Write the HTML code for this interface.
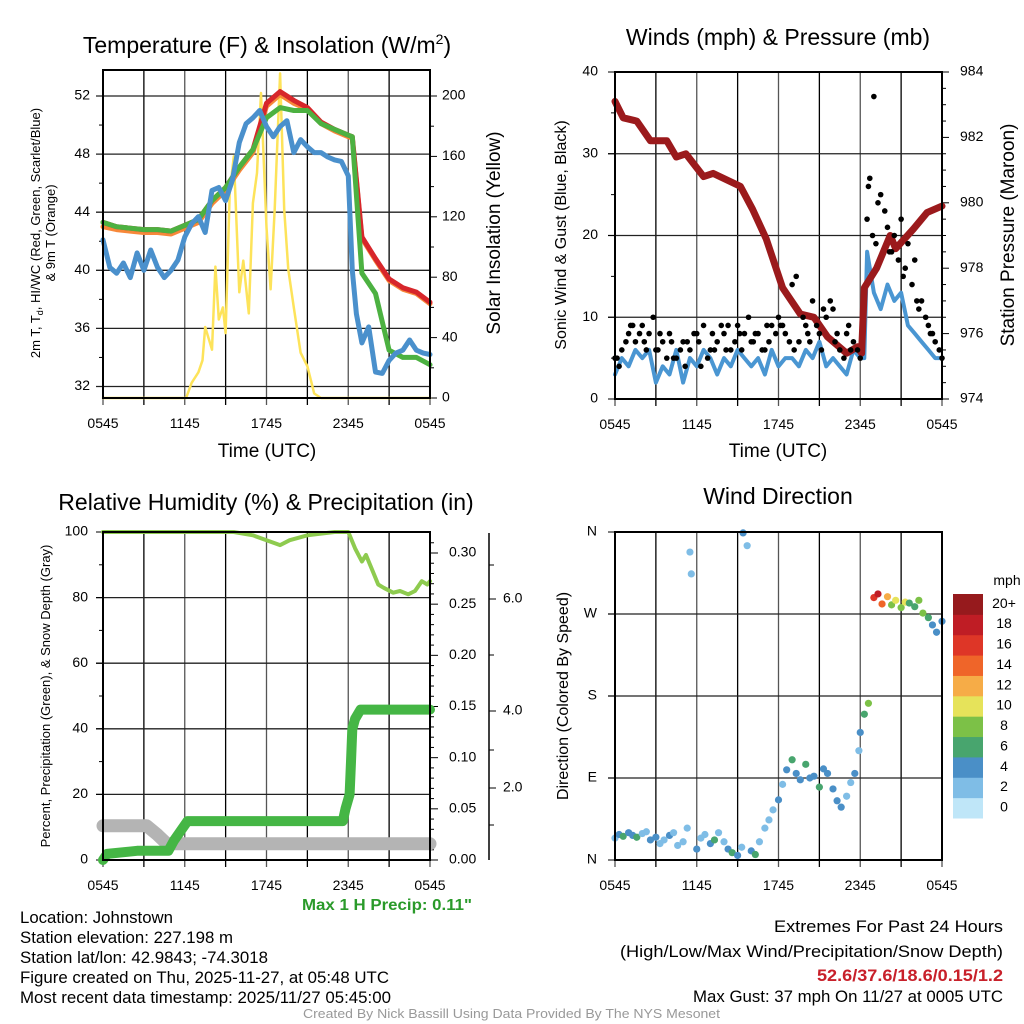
<!DOCTYPE html>
<html><head><meta charset="utf-8"><style>
html,body{margin:0;padding:0;background:#fff;}
svg{display:block;font-family:"Liberation Sans",sans-serif;}
.tk{font-size:14px;fill:#000;}
.ttl{font-size:23px;fill:#000;}
.ax{font-size:19px;fill:#000;}
</style></head><body>
<svg id="fig" width="1024" height="1024" viewBox="0 0 1024 1024" xmlns="http://www.w3.org/2000/svg">
<g id="p1"></g>
<g id="p2"></g>
<g id="p3"></g>
<g id="p4"></g>
<g id="txt">
<text x="20" y="923" font-size="16.5" textLength="153" lengthAdjust="spacingAndGlyphs">Location: Johnstown</text>
<text x="20" y="943" font-size="16.5" textLength="213" lengthAdjust="spacingAndGlyphs">Station elevation: 227.198 m</text>
<text x="20" y="963" font-size="16.5" textLength="248" lengthAdjust="spacingAndGlyphs">Station lat/lon: 42.9843; -74.3018</text>
<text x="20" y="983" font-size="16.5" textLength="369" lengthAdjust="spacingAndGlyphs">Figure created on Thu, 2025-11-27, at 05:48 UTC</text>
<text x="20" y="1003" font-size="16.5" textLength="371" lengthAdjust="spacingAndGlyphs">Most recent data timestamp: 2025/11/27 05:45:00</text>
<text x="774" y="932" font-size="16.5" textLength="229" lengthAdjust="spacingAndGlyphs">Extremes For Past 24 Hours</text>
<text x="620" y="957" font-size="16.5" textLength="383" lengthAdjust="spacingAndGlyphs">(High/Low/Max Wind/Precipitation/Snow Depth)</text>
<text x="817" y="981" font-size="16.5" textLength="186" lengthAdjust="spacingAndGlyphs" font-weight="bold" fill="#c8202a">52.6/37.6/18.6/0.15/1.2</text>
<text x="693" y="1002" font-size="16.5" textLength="310" lengthAdjust="spacingAndGlyphs">Max Gust: 37 mph On 11/27 at 0005 UTC</text>
<text x="303" y="1018" font-size="13" textLength="417" lengthAdjust="spacingAndGlyphs" fill="#999">Created By Nick Bassill Using Data Provided By The NYS Mesonet</text>
<text x="302" y="910" font-size="15.5" textLength="170" lengthAdjust="spacingAndGlyphs" font-weight="bold" fill="#2a9a2a">Max 1 H Precip: 0.11"</text>
</g>
</svg>
<script>
// ---------- data ----------
const xTickLabels = ["0545","1145","1745","2345","0545"];
const tempT = [0,1,2,3,4,5,6,7,8,9,10,11,12,13,14,15,16,17,18,18.3,19,20,21,22,23,24];
const tempRed = [43.3,43.0,42.9,42.8,42.8,42.7,43.1,43.5,44.8,45.7,47.1,48.3,51.5,52.3,51.7,51.2,50.2,49.7,49.3,49.2,42.3,40.8,39.4,38.8,38.5,37.8];
const tempGreen = [43.3,43.0,42.9,42.8,42.8,42.7,43.1,43.5,44.8,45.7,47.1,48.3,50.5,51.2,51.0,51.0,50.1,49.7,49.3,49.2,39.8,38.4,34.5,34.0,34.0,33.5];
const tempOrange = [43.0,42.8,42.7,42.6,42.6,42.5,42.9,43.3,44.6,45.5,46.9,48.1,51.3,52.1,51.5,51.1,50.1,49.6,49.2,49.1,42.2,40.7,39.3,38.7,38.4,37.7];
const dewT = [0,0.5,1,1.5,2,2.5,3,3.5,4,4.5,5,5.5,6,6.5,7,7.5,8,8.5,9,9.5,10,10.5,11,11.5,12,12.5,13,13.5,14,14.5,15,15.5,16,16.5,17,17.5,18,18.3,18.6,19,19.5,20,20.5,21,21.5,22,22.5,23,23.5,24];
const dewV = [42.1,40.2,39.8,40.5,39.5,41.2,40.0,41.4,40.2,39.5,40.0,40.7,42.3,43.2,43.7,42.6,45.5,45.7,44.8,46.2,48.8,50.1,50.5,51.0,49.9,49.2,49.9,50.3,48.1,49.0,48.5,48.1,48.1,47.8,47.6,47.5,46.5,40.0,37.0,35.0,36.1,33.0,32.9,33.8,34.3,34.5,35.2,34.5,34.3,34.2];
const solT = [0,6.1,6.5,7,7.3,7.5,8,8.25,8.5,8.8,9,9.3,9.6,10,10.3,10.7,11,11.3,11.6,12,12.3,12.6,13,13.3,13.6,14,14.5,15,15.5,16,24];
const solV = [0,0,10,17,25,47,32,87,52,60,43,136,160,70,91,56,129,149,202,113,72,125,215,125,85,60,30,21,3,0,0];
const presT = [0,0.6,1.6,2.6,3.8,4.5,5.2,6.5,7.2,9.2,10.1,11.1,12.3,13.6,14.6,15.6,17,17.8,18.1,18.3,19.2,20.2,20.6,21.9,22.9,24];
const presV = [983.1,982.6,982.5,981.9,981.9,981.4,981.5,980.8,980.9,980.5,979.8,978.9,977.4,976.6,976.5,975.9,975.4,975.6,975.4,977.4,978.0,979.0,978.6,979.2,979.7,979.9];
const windT = [0,0.5,1,1.5,2,2.5,3,3.5,4,4.5,5,5.5,6,6.5,7,7.5,8,8.5,9,9.5,10,10.5,11,11.5,12,12.5,13,13.5,14,14.5,15,15.5,16,16.5,17,17.5,18,18.3,18.5,19,19.5,20,20.5,21,21.5,22,22.5,23,23.5,24];
const windV = [3,5,4,6,5,6,2,4,3,6,2,5,4,6,5,3,5,4,6,5,4,5,3,6,4,5,5,4,6,5,7,4,5,4,3,6,5,5,18,13,11,14,12,13,9,8,7,6,5,5];
const gustT = [0,0.5,1,1.5,2,2.5,3,3.5,4,4.5,5,5.5,6,6.5,7,7.5,8,8.5,9,9.5,10,10.5,11,11.5,12,12.5,13,13.5,14,14.5,15,15.5,16,16.5,17,17.5,18,18.5,19,19.5,20,20.5,21,21.5,22,22.5,23,23.5,24];
const gustV = [5,6,8,7,9,8,6,7,8,5,7,6,8,9,6,7,8,6,9,8,7,8,6,9,10,8,14,7,9,12,8,10,11,6,8,7,5,22,37,25,21,20,22,19,17,12,9,7,5];
const gustT2 = [0.3,1.3,2.3,3.3,4.3,5.3,6.3,7.3,8.3,9.3,10.3,11.3,12.3,13.3,14.3,15.3,16.3,17.3,18.7,19.3,20.3,21.3,22.3,23.3];
const gustV2 = [4,9,6,8,5,7,4,6,9,6,8,7,9,15,7,11,8,6,27,24,18,16,11,8];
const gustT3 = [0.15,0.8,1.15,1.8,2.15,2.8,3.15,3.8,4.15,4.8,5.15,5.8,6.15,6.8,7.15,7.8,8.15,8.8,9.15,9.8,10.15,10.8,11.15,11.8,12.15,12.8,13.15,13.8,14.15,14.8,15.15,15.8,16.15,16.8,17.15,17.8,18.6,18.9,19.15,19.8,20.15,20.8,21.15,21.8,22.15,22.8,23.15,23.8];
const gustV3 = [5,7,9,8,7,10,6,5,7,6,4,8,7,5,8,9,6,7,8,10,7,6,9,8,9,7,6,10,8,9,6,12,7,5,9,6,26,20,19,23,18,17,15,14,12,10,8,6];
const rhT = [0,9.6,11,13,13.7,15,17,18,18.5,19,19.3,19.8,20.2,20.6,21.3,21.8,22.4,22.9,23.4,23.8,24];
const rhV = [100,100,99,96,97.5,99,100,100,95,91,93,88,84,83,81.5,82,81,82,85,84,85];
const precT = [0,0.3,2.5,4.8,5.2,6.2,17.6,17.8,18.1,18.2,18.3,18.5,18.9,24];
const precV = [0,0.006,0.009,0.009,0.019,0.038,0.038,0.05,0.064,0.096,0.128,0.138,0.147,0.147];
const snowT = [0,3.2,4.0,4.7,24];
const snowV = [0.95,0.95,0.7,0.45,0.45];
const dirT = [0,0.3,0.6,1,1.3,1.6,2,2.3,2.6,3,3.3,3.6,4,4.3,4.6,5,5.3,5.5,5.6,6,6.3,6.6,7,7.3,7.6,8,8.3,8.6,9,9.3,9.4,9.7,10,10.3,10.6,11,11.3,11.6,12,12.3,12.6,13,13.3,13.6,14,14.3,14.6,15,15.3,15.6,16,16.3,16.6,17,17.3,17.6,17.9,18,18.3,18.6,19,19.3,19.6,20,20.3,20.6,21,21.3,21.6,22,22.3,22.6,23,23.3,23.6,24];
const dirV = [24,28,26,30,27,25,29,31,22,25,18,22,27,30,16,20,35,338,314,12,24,28,18,22,30,20,12,8,5,14,359,345,10,6,20,35,44,55,66,83,99,110,95,88,105,90,92,80,100,95,78,65,58,70,85,95,120,140,160,172,288,292,281,289,280,285,277,283,282,278,285,271,266,258,250,262,255];
const dirS = [3,4,6,4,5,6,3,2,4,5,3,2,4,2,3,3,2,2,2,4,3,2,4,6,2,3,4,6,4,3,5,2,4,6,2,2,3,2,4,3,4,6,4,5,7,4,4,6,4,5,4,4,4,3,3,4,2,4,6,8,16,18,14,12,9,11,8,10,6,7,8,9,6,5,4,4,4];
const cbLabels = ["0","2","4","6","8","10","12","14","16","18","20+"];
const cbColors = ["#bfe6f8","#7fbde6","#4a8fc7","#48a56e","#7cc147","#e6e35a","#f6ac47","#ef6529","#de3627","#bf1d25","#961a1d"];

// ---------- helpers ----------
const NS="http://www.w3.org/2000/svg";
function mk(parent,tag,attrs,text){const e=document.createElementNS(NS,tag);for(const k in attrs)e.setAttribute(k,attrs[k]);if(text!==undefined)e.textContent=text;parent.appendChild(e);return e;}
function lineScale(d0,d1,r0,r1){return v=>r0+(v-d0)*(r1-r0)/(d1-d0);}
function poly(parent,T,V,xs,ys,attrs,name){
  const pts=T.map((t,i)=>xs(t).toFixed(1)+","+ys(V[i]).toFixed(1)).join(" ");
  const e=mk(parent,"polyline",Object.assign({points:pts,fill:"none","stroke-linejoin":"round","stroke-linecap":"round"},attrs));
  
  
  return e;
}
function frame(g,L,R,T,B,xs){
  for(let h=0;h<=24;h+=3){const gl=mk(g,"line",{x1:xs(h),x2:xs(h),y1:T,y2:B+7,stroke:h%6==0?"#555":"#000","stroke-width":1.3});
    }
  for(let i=0;i<5;i++){const tx=mk(g,"text",{x:xs(i*6),y:B+30,"text-anchor":"middle",class:"tk"},xTickLabels[i]);
    }
}
function border(g,L,R,T,B){const r=mk(g,"rect",{x:L,y:T,width:R-L,height:B-T,fill:"none",stroke:"#000","stroke-width":2});
  }
function hgrid(g,L,R,y){const l=mk(g,"line",{x1:L-7,x2:R,y1:y,y2:y,stroke:"#222","stroke-width":1.3});}
function ylab(g,x,y,s,txt,name){const t=mk(g,"text",{x:x,y:y,"text-anchor":"end",class:"tk","dominant-baseline":"middle"},txt);return t;}
function rtext(g,x,y,size,txt,name){const t=mk(g,"text",{x:0,y:0,"font-size":size,"text-anchor":"middle",transform:`translate(${x},${y}) rotate(-90)`},txt);return t;}
function title(g,x,y,txt,name){const t=mk(g,"text",{x:x,y:y,"text-anchor":"middle",class:"ttl"},txt);return t;}

// ---------- panel 1 ----------
(function(){
  const g=document.getElementById("p1");const L=103,R=430,T=70,B=398;
  const xs=lineScale(0,24,L,R), ys=lineScale(52,32,96,386.5), ysol=lineScale(0,200,398,96);
  frame(g,L,R,T,B,xs);
  [52,48,44,40,36,32].forEach(v=>{hgrid(g,L,R,ys(v));ylab(g,90,ys(v),14,String(v),'left-y-tick-label');});
  [50,46,42,38,34].forEach(v=>mk(g,"line",{x1:L-4,x2:L,y1:ys(v),y2:ys(v),stroke:"#000"}));
  [0,40,80,120,160,200].forEach(v=>{mk(g,"line",{x1:R,x2:R+7,y1:ysol(v),y2:ysol(v),stroke:"#000"});
    const t=mk(g,"text",{x:R+12,y:ysol(v),class:"tk","dominant-baseline":"middle"},String(v));});
  [20,60,100,140,180].forEach(v=>mk(g,"line",{x1:R,x2:R+4,y1:ysol(v),y2:ysol(v),stroke:"#000"}));
  poly(g,solT,solV,xs,ysol,{stroke:"#fde35a","stroke-width":2.5},'insolation-line');
  poly(g,tempT,tempOrange,xs,ys,{stroke:"#f7883a","stroke-width":5},'9m-temp-line');
  poly(g,tempT,tempRed,xs,ys,{stroke:"#d7262b","stroke-width":5},'2m-temp-line');
  poly(g,tempT,tempGreen,xs,ys,{stroke:"#4cb141","stroke-width":5},'dewpoint-line');
  poly(g,dewT,dewV,xs,ys,{stroke:"#4a90cc","stroke-width":5},'hi-wc-line');
  border(g,L,R,T,B);
  const tt=mk(g,"text",{x:267,y:53,"text-anchor":"middle",class:"ttl"});
  tt.innerHTML='Temperature (F) &amp; Insolation (W/m<tspan dy="-9" font-size="14">2</tspan><tspan dy="9">)</tspan>';
  const yl=mk(g,"text",{x:0,y:0,"font-size":13,"text-anchor":"middle",transform:"translate(40,233) rotate(-90)"});
  
  yl.innerHTML='2m T, T<tspan dy="3" font-size="9">d</tspan><tspan dy="-3">, HI/WC (Red, Green, Scarlet/Blue)</tspan>';
  rtext(g,55,233,13,'& 9m T (Orange)','left-y-axis-title-2');
  rtext(g,500,233,19,'Solar Insolation (Yellow)','right-y-axis-title');
  const xl=mk(g,"text",{x:267,y:457,"text-anchor":"middle",class:"ax"},'Time (UTC)');
})();

// ---------- panel 2 ----------
(function(){
  const g=document.getElementById("p2");const L=615,R=942,T=72,B=399;
  const xs=lineScale(0,24,L,R), ys=lineScale(0,40,B,T), yp=lineScale(974,984,B,T);
  frame(g,L,R,T,B,xs);
  [0,10,20,30,40].forEach(v=>{if(v>0&&v<40)hgrid(g,L,R,ys(v));mk(g,"line",{x1:L-7,x2:L,y1:ys(v),y2:ys(v),stroke:"#000"});ylab(g,598,ys(v),14,String(v),'left-y-tick-label');});
  [5,15,25,35].forEach(v=>mk(g,"line",{x1:L-4,x2:L,y1:ys(v),y2:ys(v),stroke:"#000"}));
  for(let p=974;p<=984;p+=0.5){const maj=p%2==0;mk(g,"line",{x1:R,x2:R+(maj?7:4),y1:yp(p),y2:yp(p),stroke:"#000"});
    if(maj){const t=mk(g,"text",{x:R+18,y:yp(p),class:"tk","dominant-baseline":"middle"},String(p));}}
  poly(g,windT,windV,xs,ys,{stroke:"#4a96d2","stroke-width":4},'wind-speed-line');
  poly(g,presT,presV,xs,yp,{stroke:"#9b1a1c","stroke-width":7},'pressure-line');
  [[gustT,gustV],[gustT2,gustV2],[gustT3,gustV3]].forEach(p=>p[0].forEach((t,i)=>{const c=mk(g,"circle",{cx:xs(t),cy:ys(p[1][i]),r:2.8,fill:"#000"});}));
  border(g,L,R,T,B);
  title(g,778,45,'Winds (mph) & Pressure (mb)','winds-title');
  rtext(g,566,235,16,'Sonic Wind & Gust (Blue, Black)','left-y-axis-title');
  rtext(g,1014,235,19,'Station Pressure (Maroon)','right-y-axis-title');
  const xl=mk(g,"text",{x:778,y:457,"text-anchor":"middle",class:"ax"},'Time (UTC)');
})();

// ---------- panel 3 ----------
(function(){
  const g=document.getElementById("p3");const L=103,R=430,T=532,B=860;
  const xs=lineScale(0,24,L,R), ys=lineScale(0,100,B,T), ypr=lineScale(0,0.30,B,553), ysn=lineScale(0,2,B,788);
  frame(g,L,R,T,B,xs);
  [0,20,40,60,80,100].forEach(v=>{if(v>0&&v<100)hgrid(g,L,R,ys(v));mk(g,"line",{x1:L-7,x2:L,y1:ys(v),y2:ys(v),stroke:"#000"});ylab(g,88,ys(v),14,String(v),'left-y-tick-label');});
  [10,30,50,70,90].forEach(v=>mk(g,"line",{x1:L-4,x2:L,y1:ys(v),y2:ys(v),stroke:"#000"}));
  for(let i=0;i<=31;i++){const v=i*0.01;const maj=i%5==0;mk(g,"line",{x1:R,x2:R+(maj?8:4),y1:ypr(v),y2:ypr(v),stroke:"#000"});
    if(maj){const t=mk(g,"text",{x:R+19,y:ypr(v),class:"tk","dominant-baseline":"middle"},v.toFixed(2));}}
  const sa=mk(g,"line",{x1:489,x2:489,y1:533,y2:860,stroke:"#000","stroke-width":1.5});
  [[2,788],[4,711],[6,599]].forEach(a=>{mk(g,"line",{x1:489,x2:496,y1:a[1],y2:a[1],stroke:"#000"});
    const t=mk(g,"text",{x:503,y:a[1],class:"tk","dominant-baseline":"middle"},a[0].toFixed(1));});
  [825,750,655,565].forEach(y=>mk(g,"line",{x1:489,x2:494,y1:y,y2:y,stroke:"#000"}));
  poly(g,snowT,snowV,xs,ysn,{stroke:"#b4b4b4","stroke-width":13},'snow-depth-line');
  poly(g,precT,precV,xs,ypr,{stroke:"#45b645","stroke-width":10},'precip-line');
  poly(g,rhT,rhV,xs,ys,{stroke:"#8ecb4f","stroke-width":4},'rh-line');
  border(g,L,R,T,B);
  title(g,266,510,'Relative Humidity (%) & Precipitation (in)','humidity-title');
  rtext(g,50,696,13,'Percent, Precipitation (Green), & Snow Depth (Gray)','left-y-axis-title');
})();

// ---------- panel 4 ----------
(function(){
  const g=document.getElementById("p4");const L=615,R=942,T=532,B=860;
  const xs=lineScale(0,24,L,R), ys=lineScale(0,360,B,T);
  frame(g,L,R,T,B,xs);
  const dl=["N","E","S","W","N"];
  [0,90,180,270,360].forEach((v,i)=>{if(v>0&&v<360)hgrid(g,L,R,ys(v));mk(g,"line",{x1:L-7,x2:L,y1:ys(v),y2:ys(v),stroke:"#000"});ylab(g,597,ys(v),14,dl[i],'direction-tick-label');});
  function col(s){let i=Math.floor(s/2);if(i>10)i=10;return cbColors[i];}
  dirT.forEach((t,i)=>{const c=mk(g,"circle",{cx:xs(t),cy:ys(dirV[i]),r:3.6,fill:col(dirS[i])});});
  border(g,L,R,T,B);
  title(g,778,504,'Wind Direction','direction-title');
  rtext(g,568,696,16,'Direction (Colored By Speed)','left-y-axis-title');
  const top=594,h=224/11;
  cbColors.forEach((c,i)=>{const y=top+(10-i)*h;const r=mk(g,"rect",{x:953,y:y,width:30,height:h+0.5,fill:c});
    const t=mk(g,"text",{x:1004,y:y+h/2,class:"tk","text-anchor":"middle","dominant-baseline":"middle"},cbLabels[i]);});
  const u=mk(g,"text",{x:1007,y:585,class:"tk","text-anchor":"middle"},'mph');
})();
</script>
</body></html>
